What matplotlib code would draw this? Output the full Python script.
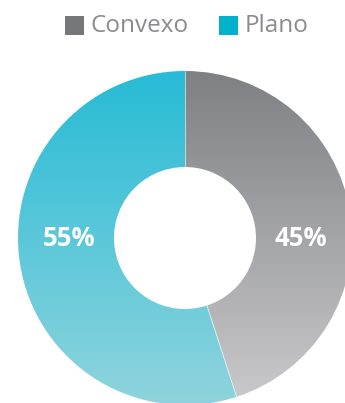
import numpy as np
import matplotlib.pyplot as plt
from matplotlib.patches import Wedge, Rectangle
from matplotlib.colors import LinearSegmentedColormap

labels = ['Convexo', 'Plano']
shares = [45, 55]
legend_colors = ['#76777b', '#00b1cc']
# top -> bottom gradient for each ring segment
gradients = [('#7f8084', '#cacacc'), ('#27bbd6', '#8fd4dd')]
# side on which each value label sits (right / left of the hole)
label_side = [1, -1]

W, H = 345, 403
fig = plt.figure(figsize=(W / 100, H / 100), dpi=100)
ax = fig.add_axes([0, 0, 1, 1])
ax.set_xlim(0, W)
ax.set_ylim(0, H)
ax.axis('off')

cx, cy = 185, H - 238
r_out, r_in = 167, 71
rm = (r_out + r_in) / 2

start = 90.0
for share, (top, bottom), side in zip(shares, gradients, label_side):
    sweep = share / 100 * 360
    wedge = Wedge((cx, cy), r_out, start - sweep, start, width=r_out - r_in,
                  facecolor='none', edgecolor='none')
    ax.add_patch(wedge)
    cmap = LinearSegmentedColormap.from_list('g', [bottom, top])
    grad = np.linspace(0, 1, 256).reshape(-1, 1)
    im = ax.imshow(grad, cmap=cmap, origin='lower', aspect='auto',
                   extent=(cx - r_out, cx + r_out, cy - r_out, cy + r_out))
    im.set_clip_path(wedge)

    ax.text(cx + side * (rm - 3), cy - 1, f'{share}%',
            color='white', fontsize=18.5, fontweight='bold', family='Open Sans',
            ha='center', va='center')
    start -= sweep

# thin white separators between segments
for ang in (90, 90 - shares[0] / 100 * 360):
    a = np.deg2rad(ang)
    ax.plot([cx + r_in * np.cos(a), cx + r_out * np.cos(a)],
            [cy + r_in * np.sin(a), cy + r_out * np.sin(a)],
            color='white', lw=0.6, alpha=0.7)

ax.set_xlim(0, W)
ax.set_ylim(0, H)

# legend row
legend_x = [65, 219]
for x0, lab, col in zip(legend_x, labels, legend_colors):
    ax.add_patch(Rectangle((x0, H - 35), 19, 19, facecolor=col, edgecolor='none'))
    ax.text(x0 + 26, H - 26, lab, color='#8a8b8e', fontsize=17.5,
            family='Open Sans', ha='left', va='center')

fig.savefig('out.png', dpi=100)
